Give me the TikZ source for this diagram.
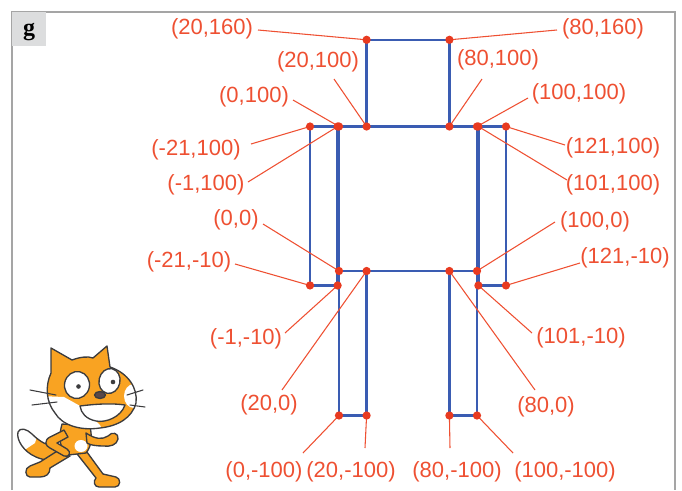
\documentclass[tikz,border=0pt]{standalone}
\usepackage{fontspec}
\setmainfont{Liberation Sans}
\newfontfamily\tagfont{Liberation Serif}
\definecolor{figblue}{RGB}{58,92,178}
\definecolor{labelred}{RGB}{238,80,50}
\definecolor{dotred}{RGB}{232,58,32}
\definecolor{framegray}{RGB}{165,165,165}
\definecolor{tagfill}{RGB}{220,221,222}
\definecolor{catorange}{RGB}{249,163,34}
\definecolor{catline}{RGB}{60,60,62}
\definecolor{catnose}{RGB}{90,72,72}
\newcommand\catTail{(58,446) .. controls (48,447) and (39,441) .. (32,434) .. controls (27,429) and (20,427) .. (18,432) .. controls (16,440) and (24,452) .. (36,457) .. controls (45,461) and (54,461) .. (60,458)}
\newcommand\catHead{(51,348) -- (72,360) .. controls (80,357) and (88,356) .. (93,358) -- (107,346) -- (110,367) .. controls (128,373) and (138,388) .. (136,403) .. controls (132,418) and (118,426) .. (100,428) .. controls (80,431) and (62,425) .. (55,413) .. controls (46,402) and (45,386) .. (51,373) -- cycle}
\begin{document}
\begin{tikzpicture}[x=0.75pt,y=-0.75pt,
  limb/.style={draw=figblue,line width=1.8pt},
  leader/.style={draw=labelred,line width=0.8pt},
  lbl/.style={text=labelred,font=\fontsize{16.5}{19}\selectfont,inner sep=0pt},
  pin/.style={fill=dotred,draw=none},
  cat/.style={draw=catline,line width=1pt,line join=round},
  whisker/.style={draw=catline,line width=0.8pt,line cap=round}]
\useasboundingbox (0,0) rectangle (682,490);

% panel frame and tag
\draw[framegray,line width=0.8pt] (12,490) -- (12,12) -- (675,12) -- (675,490);
\fill[tagfill] (12,12) rectangle (46,46);
\node[font=\tagfont\bfseries\fontsize{18}{18}\selectfont,inner sep=0pt] (tag) at (29,32) {g};

% the figure, in its own coordinates
\begin{scope}[shift={(339,271)},x=1.035pt,y=1.08375pt]
  \coordinate (q20x160) at (20,160);
  \coordinate (q80x160) at (80,160);
  \coordinate (q20x100) at (20,100);
  \coordinate (q80x100) at (80,100);
  \coordinate (q0x100) at (0,100);
  \coordinate (qm1x100) at (-1,100);
  \coordinate (qm21x100) at (-21,100);
  \coordinate (q100x100) at (100,100);
  \coordinate (q101x100) at (101,100);
  \coordinate (q121x100) at (121,100);
  \coordinate (q0x0) at (0,0);
  \coordinate (q100x0) at (100,0);
  \coordinate (qm21xm10) at (-21,-10);
  \coordinate (qm1xm10) at (-1,-10);
  \coordinate (q121xm10) at (121,-10);
  \coordinate (q101xm10) at (101,-10);
  \coordinate (q20x0) at (20,0);
  \coordinate (q80x0) at (80,0);
  \coordinate (q0xm100) at (0,-100);
  \coordinate (q20xm100) at (20,-100);
  \coordinate (q80xm100) at (80,-100);
  \coordinate (q100xm100) at (100,-100);
\end{scope}

\draw[limb] (q20x100) rectangle (q80x160);
\draw[limb] (q0x0) rectangle (q100x100);
\draw[limb] (qm21xm10) rectangle (qm1x100);
\draw[limb] (q101xm10) rectangle (q121x100);
\draw[limb] (q0xm100) rectangle (q20x0);
\draw[limb] (q80xm100) rectangle (q100x0);

% labels
\node[lbl] (t20x160) at (212,29) {(20,160)};
\node[lbl] (t80x160) at (603,29) {(80,160)};
\node[lbl] (t20x100) at (318,62) {(20,100)};
\node[lbl] (t80x100) at (498,60) {(80,100)};
\node[lbl] (t0x100) at (254,97) {(0,100)};
\node[lbl] (t100x100) at (579,94) {(100,100)};
\node[lbl] (tm21x100) at (196,150) {(-21,100)};
\node[lbl] (tm1x100) at (206,185) {(-1,100)};
\node[lbl] (t121x100) at (613,148) {(121,100)};
\node[lbl] (t101x100) at (613,185) {(101,100)};
\node[lbl] (t0x0) at (236,220) {(0,0)};
\node[lbl] (t100x0) at (595,222) {(100,0)};
\node[lbl] (tm21xm10) at (189,262) {(-21,-10)};
\node[lbl] (t121xm10) at (625,258) {(121,-10)};
\node[lbl] (tm1xm10) at (246,339) {(-1,-10)};
\node[lbl] (t20x0) at (269,405) {(20,0)};
\node[lbl] (t101xm10) at (581,338) {(101,-10)};
\node[lbl] (t80x0) at (546,407) {(80,0)};
\node[lbl] (t0xm100) at (264,472) {(0,-100)};
\node[lbl] (t20xm100) at (351,472) {(20,-100)};
\node[lbl] (t80xm100) at (457,472) {(80,-100)};
\node[lbl] (t100xm100) at (565,472) {(100,-100)};

% leader ends beside the labels
\coordinate (s20x160) at (258,30);
\coordinate (s80x160) at (557,30);
\coordinate (s20x100) at (334,79);
\coordinate (s80x100) at (482,79);
\coordinate (s0x100) at (293,100);
\coordinate (s100x100) at (528,98);
\coordinate (sm21x100) at (251,144);
\coordinate (sm1x100) at (248,182);
\coordinate (s121x100) at (565,145);
\coordinate (s101x100) at (567,180);
\coordinate (s0x0) at (263,224);
\coordinate (s100x0) at (555,222);
\coordinate (sm21xm10) at (235,264);
\coordinate (s121xm10) at (580,263);
\coordinate (sm1xm10) at (285,333);
\coordinate (s20x0) at (282,390);
\coordinate (s101xm10) at (532,333);
\coordinate (s80x0) at (535,390);
\coordinate (s0xm100) at (303,453);
\coordinate (s20xm100) at (365,448);
\coordinate (s80xm100) at (450,448);
\coordinate (s100xm100) at (513,453);

\foreach \p in {20x160,80x160,20x100,80x100,0x100,100x100,m21x100,m1x100,121x100,101x100,0x0,100x0,m21xm10,121xm10,m1xm10,20x0,101xm10,80x0,0xm100,20xm100,80xm100,100xm100}{
  \draw[leader] (s\p) -- (q\p);
}
\foreach \p in {20x160,80x160,20x100,80x100,0x100,100x100,m21x100,m1x100,121x100,101x100,0x0,100x0,m21xm10,121xm10,m1xm10,20x0,101xm10,80x0,0xm100,20xm100,80xm100,100xm100}{
  \fill[pin] (q\p) circle (3.1pt);
}

% the cat: tail
\fill[catorange] \catTail -- cycle;
\begin{scope}
  \clip \catTail -- cycle;
  \fill[white] (10,420) -- (42,420) -- (35,443) -- (26,449) -- (10,452) -- cycle;
\end{scope}
\draw[cat] \catTail;
% legs
\filldraw[cat,fill=catorange] (62,448) -- (70,456) -- (50,468) .. controls (50,474) and (46,477) .. (40,477) -- (30,477) .. controls (25,477) and (24,468) .. (30,466) -- (40,462) -- cycle;
\filldraw[cat,fill=catorange] (74,450) -- (84,448) -- (103,474) -- (116,477) .. controls (121,478) and (121,487) .. (115,487) -- (99,487) .. controls (94,487) and (93,481) .. (96,478) -- cycle;
% body
\filldraw[cat,fill=catorange] (62,424) .. controls (58,438) and (60,450) .. (68,455) -- (86,453) .. controls (92,446) and (92,436) .. (90,426) -- cycle;
\fill[white] (81,446) ellipse (6.5 and 6);
% arms
\filldraw[cat,fill=catorange] (86,433) .. controls (95,439) and (102,440) .. (108,436) .. controls (112,431) and (119,433) .. (118,439) .. controls (117,445) and (110,447) .. (103,446) .. controls (96,446) and (90,445) .. (87,443) -- cycle;
\filldraw[cat,fill=catorange] (64,430) -- (50,437) .. controls (44,440) and (45,446) .. (50,448) -- (64,456) .. controls (69,458) and (72,452) .. (67,449) -- (57,443) -- (68,437) -- cycle;
% head
\fill[catorange] \catHead;
\begin{scope}
  \clip \catHead;
  \fill[white] (40,396) -- (64,397) -- (82,407) -- (100,425) -- (105,435) -- (40,436) -- cycle;
  \fill[white] (134,396) ellipse (10 and 12);
\end{scope}
\draw[cat] \catHead;
% eyes and nose
\filldraw[cat,fill=white,rotate around={-12:(77,385)}] (77,385) ellipse (12.5 and 13.5);
\filldraw[cat,fill=white,rotate around={-12:(109.5,381)}] (109.5,381) ellipse (10.5 and 12.5);
\fill[catline] (78.5,386.5) circle (2.3);
\fill[catline] (113,382) circle (2.3);
\filldraw[cat,fill=catnose] (100,395) ellipse (5.5 and 3.5);
% mouth
\filldraw[cat,fill=white] (80,406) .. controls (95,404) and (112,403) .. (125,405) .. controls (121,417) and (106,423) .. (96,421) .. controls (86,419) and (81,413) .. (80,406) -- cycle;
% whiskers
\draw[whisker] (30,390) -- (56,395);
\draw[whisker] (32,405) -- (57,402);
\draw[whisker] (127,395) -- (143,390);
\draw[whisker] (130,405) -- (145,407);
\end{tikzpicture}
\end{document}
